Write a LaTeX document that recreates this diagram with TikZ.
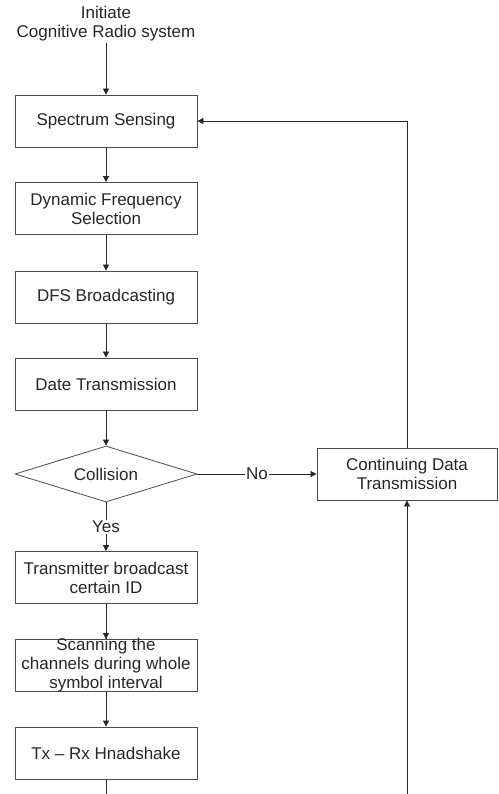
\documentclass[tikz,border=0pt]{standalone}
\usepackage{fontspec}
\setmainfont{Liberation Sans}
\usetikzlibrary{shapes.geometric, arrows.meta}

\newcommand{\edgescl}{0.035146}
\newcommand{\bx}{\node[rectangle, draw=black!70, line width=0.8pt, minimum width=182pt, minimum height=52pt, inner xsep=0pt, inner ysep=2pt, align=center, text=black!85]}
\newcommand{\Bx}{\bx[minimum width=180pt]}
\newcommand{\dn}{\node[diamond, draw=black!70, line width=0.8pt, minimum width=182pt, minimum height=56pt, inner sep=0pt, aspect=3.25, text=black!85]}
\newcommand{\coordscl}[1] {#1*\edgescl}

\tikzset{
  arr/.style={draw=black!85, line width=0.8pt, -{Triangle[width=6pt, length=6pt]}},
  lbl/.style={fill=white, inner sep=1pt, text=black!85}
}

\begin{document}
\begin{tikzpicture}[font=\fontsize{17}{19}\selectfont]
            \useasboundingbox (0,0) rectangle (\coordscl{498}, \coordscl{-794});
            \clip (0,0) rectangle (\coordscl{498}, \coordscl{-794});

            \node[align=center, text=black!85, inner sep=1pt] (start) at (\coordscl{106}, \coordscl{-24}) {Initiate\\Cognitive Radio system};
            \bx (sense) at (\coordscl{106}, \coordscl{-121}) {Spectrum Sensing};
            \bx (dfsel) at (\coordscl{106}, \coordscl{-208.5}) {Dynamic Frequency\\Selection};
            \bx (dfsbc) at (\coordscl{106}, \coordscl{-297}) {DFS Broadcasting};
            \bx (datatx) at (\coordscl{106}, \coordscl{-384}) {Date Transmission};
            \dn (coll) at (\coordscl{106}, \coordscl{-474}) {Collision};
            \Bx (contd) at (\coordscl{407}, \coordscl{-474}) {Continuing Data\\Transmission};
            \bx (txid) at (\coordscl{106}, \coordscl{-577.5}) {Transmitter broadcast\\certain ID};
            \bx[inner ysep=-2pt] (scan) at (\coordscl{106}, \coordscl{-665.5}) {Scanning the\\channels during whole\\symbol interval};
            \bx (hshake) at (\coordscl{106}, \coordscl{-753}) {Tx -- Rx Hnadshake};
            \coordinate (loop) at (\coordscl{106}, \coordscl{-800});

            \draw[arr]
                (start) -- (sense);
            \draw[arr]
                (sense) -- (dfsel);
            \draw[arr]
                (dfsel) -- (dfsbc);
            \draw[arr]
                (dfsbc) -- (datatx);
            \draw[arr]
                (datatx) -- (coll);

            \draw[arr]
                (coll) -- node[lbl] {No} (contd);
            \draw[arr]
                (coll) -- node[lbl] {Yes} (txid);

            \draw[arr]
                (txid) -- (scan);
            \draw[arr]
                (scan) -- (hshake);

            \draw[arr]
                (contd.north) |- (sense.east);
            \draw[arr]
                (hshake) -- (loop) -| (contd);
        \end{tikzpicture}
\end{document}
